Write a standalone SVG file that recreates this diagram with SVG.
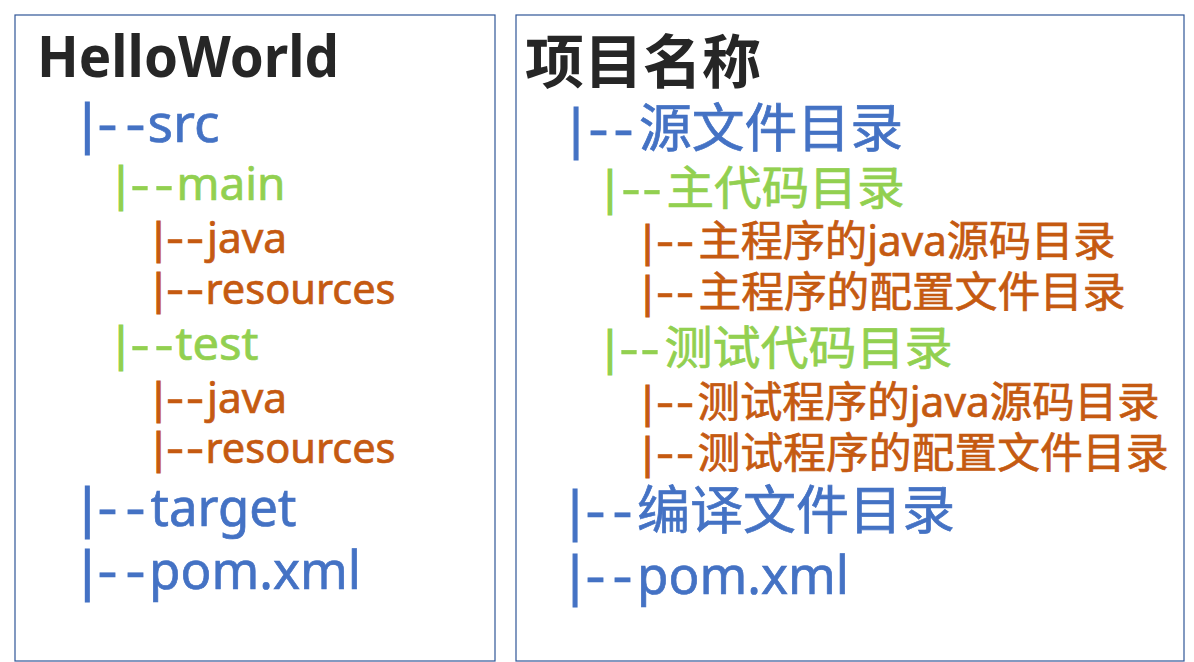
<svg xmlns="http://www.w3.org/2000/svg" width="1194" height="662" viewBox="0 0 1194 662">
<style>
.box{fill:#fff;stroke:#2F5597;stroke-width:1.2}
text{font-family:"Noto Sans","Noto Sans CJK SC",sans-serif;}
.t{fill:#262626;font-weight:bold;font-size:58px}
.b{fill:#4472C4;stroke:#4472C4;font-size:52px}
.g{fill:#92D050;stroke:#92D050;font-size:46px}
.o{fill:#C55A11;stroke:#C55A11;font-size:42px}
.b,.g,.o{stroke-width:0.7}
.bar{stroke-width:1.2}
</style>
<rect width="1194" height="662" fill="#fff"/>
<g id="left-box">
<rect class="box" x="15" y="15" width="480" height="646"/>
<g id="l-helloworld"><text class="t" x="37" y="77" textLength="302" lengthAdjust="spacingAndGlyphs">HelloWorld</text></g>
<g id="l-src"><text class="b" y="142"><tspan class="bar" x="73">|</tspan><tspan x="97.5" textLength="20" lengthAdjust="spacingAndGlyphs">-</tspan><tspan x="125.5" textLength="20" lengthAdjust="spacingAndGlyphs">-</tspan><tspan x="147.5" textLength="72" lengthAdjust="spacingAndGlyphs">src</tspan></text></g>
<g id="l-main"><text class="g" y="200"><tspan class="bar" x="108.2">|</tspan><tspan x="130.5" textLength="19" lengthAdjust="spacingAndGlyphs">-</tspan><tspan x="154.5" textLength="19" lengthAdjust="spacingAndGlyphs">-</tspan><tspan x="176.5" textLength="109" lengthAdjust="spacingAndGlyphs">main</tspan></text></g>
<g id="l-main-java"><text class="o" y="253"><tspan class="bar" x="147.1">|</tspan><tspan x="166" textLength="18" lengthAdjust="spacingAndGlyphs">-</tspan><tspan x="186" textLength="18" lengthAdjust="spacingAndGlyphs">-</tspan><tspan x="207" textLength="80" lengthAdjust="spacingAndGlyphs">java</tspan></text></g>
<g id="l-main-resources"><text class="o" y="304"><tspan class="bar" x="147.1">|</tspan><tspan x="166" textLength="18" lengthAdjust="spacingAndGlyphs">-</tspan><tspan x="186" textLength="18" lengthAdjust="spacingAndGlyphs">-</tspan><tspan x="205.5" textLength="190" lengthAdjust="spacingAndGlyphs">resources</tspan></text></g>
<g id="l-test"><text class="g" y="360"><tspan class="bar" x="108.2">|</tspan><tspan x="130.5" textLength="19" lengthAdjust="spacingAndGlyphs">-</tspan><tspan x="154.5" textLength="19" lengthAdjust="spacingAndGlyphs">-</tspan><tspan x="175.5" textLength="83" lengthAdjust="spacingAndGlyphs">test</tspan></text></g>
<g id="l-test-java"><text class="o" y="413"><tspan class="bar" x="147.1">|</tspan><tspan x="166" textLength="18" lengthAdjust="spacingAndGlyphs">-</tspan><tspan x="186" textLength="18" lengthAdjust="spacingAndGlyphs">-</tspan><tspan x="207" textLength="80" lengthAdjust="spacingAndGlyphs">java</tspan></text></g>
<g id="l-test-resources"><text class="o" y="463"><tspan class="bar" x="147.1">|</tspan><tspan x="166" textLength="18" lengthAdjust="spacingAndGlyphs">-</tspan><tspan x="186" textLength="18" lengthAdjust="spacingAndGlyphs">-</tspan><tspan x="205.5" textLength="190" lengthAdjust="spacingAndGlyphs">resources</tspan></text></g>
<g id="l-target"><text class="b" y="526"><tspan class="bar" x="73">|</tspan><tspan x="97.5" textLength="20" lengthAdjust="spacingAndGlyphs">-</tspan><tspan x="125.5" textLength="20" lengthAdjust="spacingAndGlyphs">-</tspan><tspan x="150.5" textLength="146" lengthAdjust="spacingAndGlyphs">target</tspan></text></g>
<g id="l-pom"><text class="b" y="589"><tspan class="bar" x="73">|</tspan><tspan x="97.5" textLength="20" lengthAdjust="spacingAndGlyphs">-</tspan><tspan x="125.5" textLength="20" lengthAdjust="spacingAndGlyphs">-</tspan><tspan x="149" textLength="212" lengthAdjust="spacingAndGlyphs">pom.xml</tspan></text></g>
</g>
<g id="right-box">
<rect class="box" x="516" y="15" width="668" height="646"/>
<g id="r-title"><text class="t" x="525" y="83" textLength="236" lengthAdjust="spacingAndGlyphs">项目名称</text></g>
<g id="r-src"><text class="b" y="147"><tspan class="bar" x="561.8">|</tspan><tspan x="588.5" textLength="20" lengthAdjust="spacingAndGlyphs">-</tspan><tspan x="613.5" textLength="20" lengthAdjust="spacingAndGlyphs">-</tspan><tspan x="639" textLength="264" lengthAdjust="spacingAndGlyphs">源文件目录</tspan></text></g>
<g id="r-main"><text class="g" y="204"><tspan class="bar" x="597.2">|</tspan><tspan x="621.5" textLength="19" lengthAdjust="spacingAndGlyphs">-</tspan><tspan x="642.5" textLength="19" lengthAdjust="spacingAndGlyphs">-</tspan><tspan x="666.5" textLength="238" lengthAdjust="spacingAndGlyphs">主代码目录</tspan></text></g>
<g id="r-main-java"><text class="o" y="256"><tspan class="bar" x="636.1">|</tspan><tspan x="656" textLength="18" lengthAdjust="spacingAndGlyphs">-</tspan><tspan x="676" textLength="18" lengthAdjust="spacingAndGlyphs">-</tspan><tspan x="698.5" textLength="417" lengthAdjust="spacingAndGlyphs">主程序的java源码目录</tspan></text></g>
<g id="r-main-res"><text class="o" y="307"><tspan class="bar" x="636.1">|</tspan><tspan x="656" textLength="18" lengthAdjust="spacingAndGlyphs">-</tspan><tspan x="676" textLength="18" lengthAdjust="spacingAndGlyphs">-</tspan><tspan x="698.5" textLength="427" lengthAdjust="spacingAndGlyphs">主程序的配置文件目录</tspan></text></g>
<g id="r-test"><text class="g" y="364"><tspan class="bar" x="597.2">|</tspan><tspan x="619.5" textLength="19" lengthAdjust="spacingAndGlyphs">-</tspan><tspan x="640.5" textLength="19" lengthAdjust="spacingAndGlyphs">-</tspan><tspan x="664.5" textLength="288" lengthAdjust="spacingAndGlyphs">测试代码目录</tspan></text></g>
<g id="r-test-java"><text class="o" y="417"><tspan class="bar" x="636.1">|</tspan><tspan x="656" textLength="18" lengthAdjust="spacingAndGlyphs">-</tspan><tspan x="676" textLength="18" lengthAdjust="spacingAndGlyphs">-</tspan><tspan x="697.5" textLength="462" lengthAdjust="spacingAndGlyphs">测试程序的java源码目录</tspan></text></g>
<g id="r-test-res"><text class="o" y="468"><tspan class="bar" x="636.1">|</tspan><tspan x="656" textLength="18" lengthAdjust="spacingAndGlyphs">-</tspan><tspan x="676" textLength="18" lengthAdjust="spacingAndGlyphs">-</tspan><tspan x="697.5" textLength="471" lengthAdjust="spacingAndGlyphs">测试程序的配置文件目录</tspan></text></g>
<g id="r-target"><text class="b" y="529"><tspan class="bar" x="560.8">|</tspan><tspan x="585.5" textLength="20" lengthAdjust="spacingAndGlyphs">-</tspan><tspan x="612.5" textLength="20" lengthAdjust="spacingAndGlyphs">-</tspan><tspan x="637" textLength="318" lengthAdjust="spacingAndGlyphs">编译文件目录</tspan></text></g>
<g id="r-pom"><text class="b" y="594"><tspan class="bar" x="560.8">|</tspan><tspan x="585.5" textLength="20" lengthAdjust="spacingAndGlyphs">-</tspan><tspan x="612.5" textLength="20" lengthAdjust="spacingAndGlyphs">-</tspan><tspan x="637" textLength="212" lengthAdjust="spacingAndGlyphs">pom.xml</tspan></text></g>
</g>
</svg>
